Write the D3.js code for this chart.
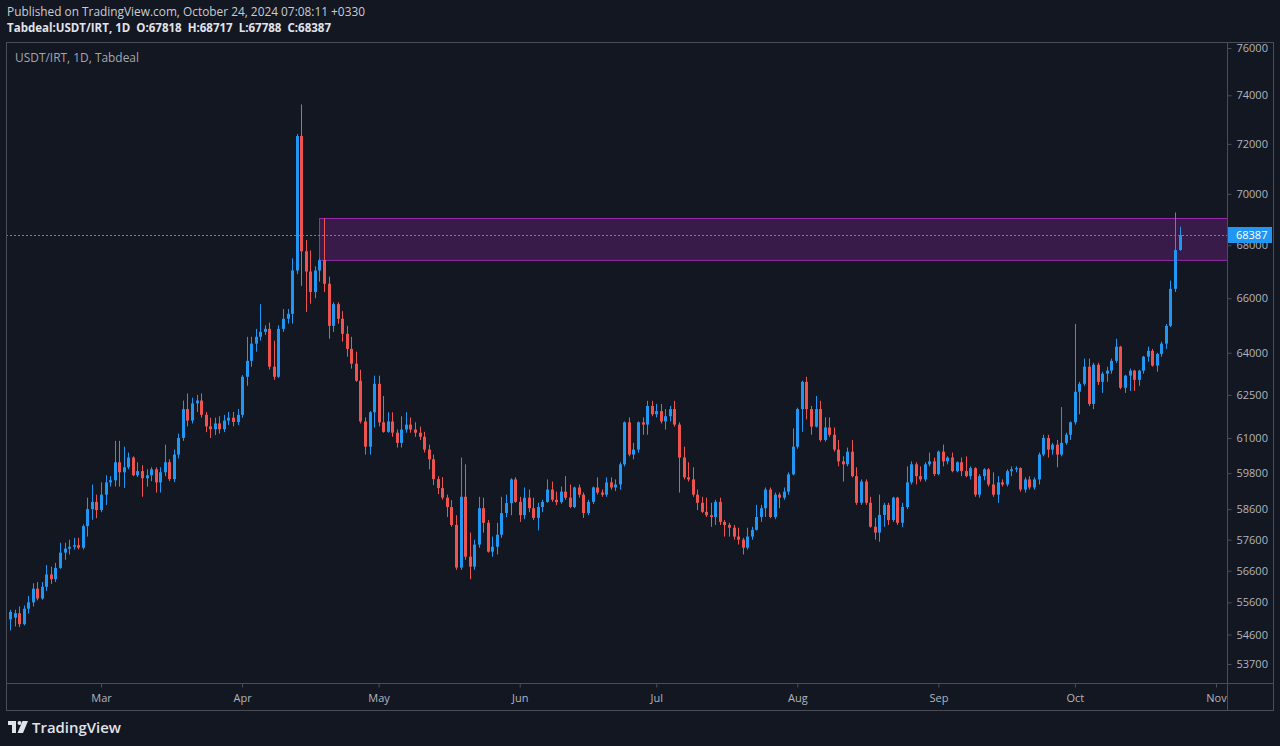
<!DOCTYPE html>
<html><head><meta charset="utf-8">
<script src="https://cdn.jsdelivr.net/npm/d3@7"></script>
<style>html,body{margin:0;padding:0;background:#131722;}svg{display:block}</style>
</head><body><svg id="c" width="1280" height="746"></svg>
<script>
const startDate = "2024-02-09";
const opens = [
55630,55070,55120,55260,54920,55400,55600,56030,55720,56090,
56480,56330,56690,57180,57310,57370,57420,57340,58040,58600,
58840,58570,59080,59490,59560,60170,59830,60000,60330,59730,
59870,59630,59730,59930,59490,59830,60170,59600,60430,61000,
62000,61600,62200,62300,61800,61400,61300,61500,61300,61600,
61700,61550,61800,63140,63710,64330,64580,64760,64870,63500,
63140,64870,65240,65420,67040,72320,67770,67000,66230,67040,
67430,66540,64980,65780,65240,64690,64140,63610,63000,61570,
60700,61890,62890,61540,61210,61570,61180,60830,61290,61460,
61290,61180,61040,60600,60270,59600,59300,58980,58670,58080,
56700,59010,57050,56730,57440,58630,58150,57210,57370,57760,
58470,58800,59590,58840,58400,58980,58630,58310,58670,58840,
59250,58910,58830,59180,58980,58670,59320,59080,58470,58840,
59320,59150,59080,59490,59320,59420,60100,61540,60430,60600,
61540,61460,62110,61820,61930,61570,61750,62000,61460,60330,
59660,59590,59080,58810,58510,58400,58340,58840,58180,58080,
57990,57700,57600,57340,57700,57920,58340,58630,59250,58340,
59080,58980,59180,59760,60700,62000,62960,62000,61390,62000,
60930,61360,61110,60600,60200,60100,60530,59700,58810,59520,
58810,58020,57830,58410,58740,58240,58980,58150,58670,59490,
60100,59700,59590,60100,60200,59770,60530,60200,60330,59870,
60170,59870,59700,59970,59080,59700,59930,59420,59080,59490,
59420,59870,59930,59970,59250,59590,59320,59590,60430,61000,
60600,60770,60430,60830,61110,61540,62610,62890,63500,62180,
63570,62960,63250,63360,63710,64220,62750,63180,63360,63030,
63360,63860,64070,63540,63960,64330,64980,66350,67818];
const highs = [
55800,55370,55370,55470,55500,55800,56200,56240,56240,56780,
56730,56850,57500,57500,57600,57660,57660,58100,58980,59420,
59080,59490,59730,59700,60900,60900,60700,60500,60370,60170,
60070,59930,60000,60000,60000,60770,60270,60600,61150,62300,
62550,62400,62500,62550,61900,61700,61700,61750,61800,61900,
61900,62000,63200,64580,64580,64870,65780,65000,65100,64440,
65000,65600,65600,67500,72400,73620,68200,67800,67200,67500,
69040,66810,65850,65850,65520,64980,64580,64040,63390,61710,
61930,63180,63180,62460,61890,61890,61290,61750,61890,61710,
61540,61390,61210,60770,60430,59700,59670,59080,58900,58400,
60330,60100,57830,57600,59010,58980,58240,57700,58150,59010,
59080,59630,59660,59010,59320,59250,58980,58810,58910,59590,
59520,59180,59350,59700,59420,59350,59420,59150,58910,59350,
59660,59250,59660,59660,59590,60170,61570,61710,60830,61570,
61710,62290,62290,62180,62180,62000,62110,62290,61540,60700,
60170,60000,59250,59010,58980,58810,58910,58980,58240,58150,
58080,57990,57660,57990,58020,58740,58740,59320,59320,59150,
59150,59320,59830,61330,62050,63000,63140,62110,62460,62290,
61710,61710,61360,60930,60370,60670,60930,60000,59590,59590,
59010,58310,59080,58810,58810,59010,59010,58810,60030,60200,
60170,60030,60170,60500,60330,60570,60770,60370,60500,60200,
60330,60370,60030,60000,59770,59970,59970,59830,59700,59590,
59930,60030,60030,60000,59660,59700,59660,60500,61110,61110,
60830,60930,62070,61180,61570,65050,62960,63790,63790,63640,
63640,63320,63500,63790,64510,64250,63210,63430,63390,63390,
63890,64220,64140,64000,64400,65050,66660,69270,68717];
const lows = [
54900,54730,54850,54830,54880,55250,55470,55660,55680,55960,
56180,56240,56660,56950,57120,57280,57280,57280,57700,58250,
58300,58500,58740,59350,59350,59350,59300,59930,59700,59670,
59010,59350,59530,59150,59150,59700,59530,59500,60300,60900,
61400,61500,61900,61700,61200,61000,61100,61150,61200,61450,
61400,61450,61700,62820,63500,64040,64440,64650,63400,63030,
63100,64760,65060,65060,66900,66460,65490,65800,66000,66620,
66230,64510,64760,65060,64400,63860,63430,62960,61500,60430,
60430,61360,61400,61180,61180,61040,60670,60670,61180,61180,
61040,60930,60500,59930,59400,59100,58910,58340,58020,56630,
56630,56950,56330,56630,57340,57830,57180,57050,57120,57660,
58340,58400,58810,58180,58270,58500,58240,57900,58500,58810,
58840,58730,58780,58910,58630,58630,58980,58310,58400,58770,
59080,59010,59010,59250,59200,59250,60030,60370,60270,60500,
61110,61110,61750,61710,61500,61290,61570,61390,59150,59590,
59520,59010,58570,58470,58340,58020,58080,58080,57700,57700,
57600,57440,57120,57280,57600,57900,58180,58340,58300,58270,
58630,58910,59080,59730,60630,61210,61640,61110,61360,60870,
60870,61040,60530,60030,59520,60030,59660,58740,58740,58740,
57990,57600,57530,58020,58080,58180,58080,58020,58600,59420,
59420,59520,59520,60030,59700,59730,60030,60100,59830,59830,
59700,59660,59590,59010,58980,59560,59350,59010,58810,59350,
59350,59700,59830,59180,59150,59250,59250,59420,60370,60330,
60430,60000,60370,60770,60930,61460,61820,62820,62110,62000,
62850,62570,62960,63250,63640,62700,62570,62640,62640,62820,
63250,63680,63500,63320,63860,64140,64940,66230,67788];
const closes = [
55070,55300,55260,54920,55400,55600,56030,55720,56090,56480,
56330,56690,57180,57310,57370,57420,57340,58040,58600,58840,
58570,59080,59490,59560,60170,59830,60000,60330,59730,59870,
59630,59730,59930,59490,59830,60170,59600,60430,61000,62000,
61600,62200,62300,61800,61400,61300,61500,61300,61600,61700,
61550,61800,63140,63710,64330,64580,64760,64870,63500,63140,
64870,65240,65420,67040,72320,67770,67000,66230,67040,67430,
66540,64980,65780,65240,64690,64140,63610,63000,61570,60700,
61890,62890,61540,61210,61570,61180,60830,61290,61460,61290,
61180,61040,60600,60270,59600,59300,58980,58670,58080,56700,
59010,57050,56730,57440,58630,58150,57210,57370,57760,58470,
58800,59590,58840,58400,58980,58630,58310,58670,58840,59250,
58910,58830,59180,58980,58670,59320,59080,58470,58840,59320,
59150,59080,59490,59320,59420,60100,61540,60430,60600,61540,
61460,62110,61820,61930,61570,61750,62000,61460,60330,59660,
59590,59080,58810,58510,58400,58340,58840,58180,58080,57990,
57700,57600,57340,57700,57920,58340,58630,59250,58340,59080,
58980,59180,59760,60700,62000,62960,62000,61390,62000,60930,
61360,61110,60600,60200,60100,60530,59700,58810,59520,58810,
58020,57830,58410,58740,58240,58980,58150,58670,59490,60100,
59700,59590,60100,60200,59770,60530,60200,60330,59870,60170,
59870,59700,59970,59080,59700,59930,59420,59080,59490,59420,
59870,59930,59970,59250,59590,59320,59590,60430,61000,60600,
60770,60430,60830,61110,61540,62610,62890,63500,62180,63570,
62960,63250,63360,63710,64220,62750,63180,63360,63030,63360,
63860,64070,63540,63960,64330,64980,66350,67818,68387];
const priceTicks = [76000,74000,72000,70000,68000,66000,64000,62500,61000,59800,58600,57600,56600,55600,54600,53700];
const monthTicks = ["2024-03-01","2024-04-01","2024-05-01","2024-06-01","2024-07-01","2024-08-01","2024-09-01","2024-10-01","2024-11-01"];
const lastPrice = 68387;
const zoneDates = ["2024-04-18","2024-12-31"];
const zonePrices = [69040,67430];
const headerLines = ["Published on TradingView.com, October 24, 2024 07:08:11 +0330",
  "Tabdeal:USDT/IRT, 1D  O:67818  H:68717  L:67788  C:68387"];
const paneTitle = "USDT/IRT, 1D, Tabdeal";

const W=1280,H=746;
const C={bg:"#131722",border:"#4a4d57",text:"#b2b5be",up:"#2196f3",down:"#ef5350",zone:"#9c27b0"};
const FONT="'Open Sans', 'Noto Sans', sans-serif";
const L=6,R=1273,T=42,B=710,PR=1227,PB=683;
const svg=d3.select("#c");
svg.append("rect").attr("width",W).attr("height",H).attr("fill",C.bg);

const x=d3.scaleUtc().domain([new Date("2024-03-01T00:00:00Z"),new Date("2024-11-01T00:00:00Z")]).range([101,1216]);
const y=d3.scaleLog().domain([53700,76000]).range([664,48]);
const start=new Date(startDate+"T00:00:00Z");
const n=Math.min(opens.length,highs.length,lows.length,closes.length);
const data=d3.range(n).map(i=>({d:d3.utcDay.offset(start,i),o:opens[i],h:highs[i],l:lows[i],c:closes[i]}));

const defs=svg.append("defs");
defs.append("clipPath").attr("id","pane").append("rect").attr("x",L).attr("y",T).attr("width",PR-L).attr("height",PB-T);
defs.append("clipPath").attr("id","taxis").append("rect").attr("x",L).attr("y",PB).attr("width",PR-L).attr("height",B-PB);

const pane=svg.append("g").attr("clip-path","url(#pane)");
// zone rectangle
const zx0=x(new Date(zoneDates[0]+"T00:00:00Z")), zx1=x(new Date(zoneDates[1]+"T00:00:00Z"));
pane.append("rect").attr("x",Math.round(zx0)+0.5).attr("y",Math.round(y(zonePrices[0]))+0.5)
  .attr("width",zx1-zx0).attr("height",y(zonePrices[1])-y(zonePrices[0]))
  .attr("fill","rgba(156,39,176,0.28)").attr("stroke",C.zone).attr("stroke-width",1);

// price line
const py=Math.round(y(lastPrice))+0.5;
pane.append("line").attr("x1",L).attr("x2",PR).attr("y1",py).attr("y2",py)
  .attr("stroke",C.up).attr("stroke-width",1).attr("stroke-dasharray","2,2");

// candles
const cg=pane.append("g");
data.forEach(k=>{
  const cx=Math.round(x(k.d));
  const col=k.c>=k.o?C.up:C.down;
  const hi=Math.max(k.h,k.o,k.c), lo=Math.min(k.l,k.o,k.c);
  cg.append("rect").attr("x",cx).attr("y",y(hi)).attr("width",1).attr("height",Math.max(1,y(lo)-y(hi))).attr("fill",col);
  const yt=y(Math.max(k.o,k.c)), yb=y(Math.min(k.o,k.c));
  cg.append("rect").attr("x",cx-1).attr("y",yt).attr("width",3).attr("height",Math.max(1,yb-yt)).attr("fill",col);
});

// frame
const fr=svg.append("g").attr("stroke",C.border).attr("stroke-width",1).attr("fill","none");
fr.append("rect").attr("x",L+0.5).attr("y",T+0.5).attr("width",R-L).attr("height",B-T);
fr.append("line").attr("x1",PR+0.5).attr("x2",PR+0.5).attr("y1",T).attr("y2",B);
fr.append("line").attr("x1",L).attr("x2",R).attr("y1",PB+0.5).attr("y2",PB+0.5);

// price axis
const ya=svg.append("g").attr("transform",`translate(${PR+0.5},0)`)
  .call(d3.axisRight(y).tickValues(priceTicks).tickSize(4).tickPadding(5).tickFormat(d3.format("d")));
ya.select(".domain").remove();
ya.selectAll("line").attr("stroke",C.border);
ya.selectAll("text").attr("fill",C.text).style("font-family",FONT).style("font-size","11px");

// time axis
const ta=svg.append("g").attr("clip-path","url(#taxis)");
const xa=ta.append("g").attr("transform",`translate(0,${PB+0.5})`)
  .call(d3.axisBottom(x).tickValues(monthTicks.map(s=>new Date(s+"T00:00:00Z"))).tickSize(4).tickPadding(7).tickFormat(d3.utcFormat("%b")));
xa.select(".domain").remove();
xa.selectAll("line").attr("stroke",C.border);
xa.selectAll("text").attr("fill",C.text).style("font-family",FONT).style("font-size","11px");

// last price label
svg.append("rect").attr("x",PR+1).attr("y",py-8.5).attr("width",R-PR-2).attr("height",16).attr("fill",C.up);
svg.append("text").attr("x",PR+9).attr("y",py).attr("dy","0.35em").attr("fill","#ffffff")
  .style("font-family",FONT).style("font-size","11px").text(String(lastPrice));

// texts
svg.append("text").attr("x",7).attr("y",16).attr("fill","#c9ccd4").style("font-family",FONT).style("font-size","12px")
  .attr("textLength",358).attr("lengthAdjust","spacingAndGlyphs").text(headerLines[0]);
svg.append("text").attr("x",7).attr("y",32).attr("fill","#e1e3ea").style("font-family",FONT).style("font-size","12px")
  .style("font-weight","bold").style("white-space","pre").attr("textLength",324).attr("lengthAdjust","spacingAndGlyphs").text(headerLines[1]);
svg.append("text").attr("x",15).attr("y",62).attr("fill","#a3a6af").style("font-family",FONT).style("font-size","12px")
  .attr("textLength",124).attr("lengthAdjust","spacingAndGlyphs").text(paneTitle);

// TradingView logo
const lg=svg.append("g").attr("fill","#e1e3ea");
lg.append("rect").attr("x",8).attr("y",721).attr("width",8).attr("height",4);
lg.append("rect").attr("x",12).attr("y",721).attr("width",4).attr("height",12);
lg.append("circle").attr("cx",19.5).attr("cy",723).attr("r",2);
lg.append("path").attr("d","M22.5,721 L28,721 L23,733 L17.5,733 Z");
svg.append("text").attr("x",32).attr("y",733).attr("fill","#e1e3ea").style("font-family",FONT).style("font-size","15px")
  .style("font-weight","600").attr("textLength",89).attr("lengthAdjust","spacingAndGlyphs").text("TradingView");
</script></body></html>
